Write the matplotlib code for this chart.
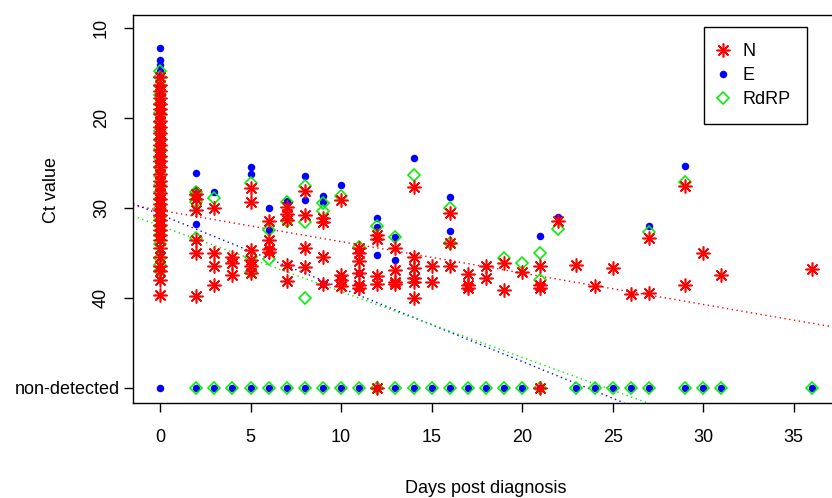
import matplotlib
matplotlib.use("Agg")
import matplotlib.pyplot as plt
from matplotlib.lines import Line2D

plt.rcParams['font.family'] = ['Liberation Sans', 'DejaVu Sans']

# ---------------- data (Ct values; non-detected listed separately) ----------------
n_days = ([0] * 35 + [2] * 6 + [3] * 4 + [4] * 3 + [5] * 6 + [6] * 4 + [7] * 5 + [8] * 4 + [9] * 4
          + [10] * 4 + [11] * 6 + [12] * 4 + [13] * 4 + [14] * 6 + [15] * 2 + [16] * 3 + [17] * 3
          + [18] * 2 + [19] * 2 + [20] + [21] * 3 + [22] + [23] + [24] + [25] + [26] + [27] * 2
          + [29] * 2 + [30] + [31] + [36])
n_ct = [15.5, 16.3, 17.0, 17.8, 18.5, 19.0, 19.6, 20.3, 21.0, 21.7, 22.3, 23.0, 23.6, 24.2, 24.8,
        25.5, 26.2, 27.0, 27.6, 28.3, 29.0, 29.6, 30.2, 30.8, 31.3, 31.9, 32.5, 33.0, 33.6, 34.4,
        35.5, 36.4, 37.0, 38.0, 39.7,
        28.4, 29.0, 30.2, 33.6, 35.0, 39.8,
        30.0, 35.0, 36.4, 38.6,
        35.5, 36.1, 37.4,
        27.8, 29.3, 34.7, 35.8, 36.5, 37.2,
        31.4, 33.6, 34.6, 34.9,
        29.9, 30.7, 31.3, 36.3, 38.1,
        28.1, 30.8, 34.4, 36.6,
        31.1, 31.6, 35.4, 38.5,
        29.1, 37.5, 38.0, 38.7,
        34.5, 35.0, 35.9, 37.2, 38.6, 38.9,
        33.0, 33.5, 37.6, 38.5,
        34.5, 36.9, 38.2, 38.4,
        27.7, 35.4, 36.7, 37.8, 38.2, 40.0,
        36.5, 38.2,
        30.6, 33.9, 36.5,
        37.3, 38.6, 38.9,
        36.5, 37.8,
        36.1, 39.1,
        37.1,
        36.4, 38.6, 38.9,
        31.4, 36.3, 38.7, 36.7, 39.6,
        33.3, 39.5,
        27.6, 38.6,
        35.0, 37.4, 36.8]
n_nd_days = [12, 21]

e_days = ([0] * 24 + [2] * 4 + [3] + [5] * 2 + [6] * 2 + [7] + [8] * 2 + [9] * 3 + [10] + [11]
          + [12] * 3 + [13] * 2 + [14] + [16] * 2 + [21] + [22] + [27] + [29])
e_ct = [12.2, 13.6, 14.1, 14.8, 15.5, 16.3, 17.2, 18.0, 19.0, 20.0, 21.0, 22.0, 23.0, 24.0, 25.0,
        26.0, 27.0, 28.0, 29.0, 30.6, 31.5, 32.5, 33.6, 34.9,
        26.1, 28.0, 29.0, 31.8,
        28.2,
        25.5, 26.2,
        30.0, 32.4,
        29.2,
        26.5, 29.1,
        28.7, 29.3, 38.4,
        27.4,
        37.2,
        31.1, 32.1, 35.2,
        33.2, 35.8,
        24.5,
        28.8, 32.6,
        33.1, 31.0, 32.0, 25.3]
e_nd_days = [0, 2, 3, 4, 5, 6, 7, 8, 9, 10, 11, 12, 13, 14, 15, 16, 17, 18, 19, 20, 21,
             23, 24, 25, 26, 27, 29, 30, 31, 36]

rdrp_days = ([0] * 24 + [2] * 4 + [3] + [5] * 3 + [6] * 2 + [7] * 2 + [8] * 3 + [9] * 2 + [10]
             + [11] + [12] + [13] + [14] + [16] * 2 + [19] + [20] + [21] * 2 + [22] + [27] + [29])
rdrp_ct = [14.8, 15.5, 16.5, 17.5, 18.5, 19.5, 20.5, 21.5, 22.5, 23.5, 24.5, 25.5, 26.5, 27.5,
           28.2, 29.0, 30.0, 31.0, 32.0, 33.0, 34.0, 35.6, 36.3, 37.0,
           28.2, 28.6, 29.3, 33.3,
           28.9,
           27.2, 35.5, 37.1,
           32.4, 35.7,
           29.3, 31.5,
           27.6, 31.6, 40.0,
           29.4, 30.3,
           28.7,
           34.3,
           32.0,
           33.2,
           26.3,
           30.0, 33.9,
           35.6,
           36.1,
           35.0, 38.0,
           32.3, 32.7, 27.1]
rdrp_nd_days = [2, 3, 4, 5, 6, 7, 8, 9, 10, 11, 12, 13, 14, 15, 16, 17, 18, 19, 20, 21,
                23, 24, 25, 26, 27, 29, 30, 31, 36]

# fitted trend lines (intercept at day 0, slope per day)
fit_n = (30.25, 0.349)
fit_e = (30.72, 0.817)
fit_rdrp = (31.98, 0.731)

x_ticks = [0, 5, 10, 15, 20, 25, 30, 35]
y_ticks = [10, 20, 30, 40]
ND_LABEL = "non-detected"
ND_VALUE = 50

# ---------------- styling ----------------
RED = '#FF0000'
BLUE = '#0000FF'
GREEN = '#00EE00'
FS = 13
STAR_MS, STAR_MEW = 10, 1.15
DOT_MS = 5.4
DIA_MS, DIA_MEW = 5.8, 1.15

fig = plt.figure(figsize=(8.32, 4.98), dpi=100)
ax = fig.add_axes([133 / 832, 1 - 403 / 498, (838 - 133) / 832, (403 - 15) / 498])

ax.set_xlim(-1.49, 37.44)
ax.set_ylim(51.67, 8.56)

star = (8, 2, 0)

# E
ax.plot(e_days, e_ct, linestyle='none', marker='o', ms=DOT_MS, mfc=BLUE, mec=BLUE, mew=0, zorder=3)
ax.plot(e_nd_days, [ND_VALUE] * len(e_nd_days), linestyle='none', marker='o', ms=DOT_MS,
        mfc=BLUE, mec=BLUE, mew=0, zorder=3)
# RdRP
ax.plot(rdrp_days, rdrp_ct, linestyle='none', marker='D', ms=DIA_MS, mfc='none', mec=GREEN,
        mew=DIA_MEW, zorder=4)
ax.plot(rdrp_nd_days, [ND_VALUE] * len(rdrp_nd_days), linestyle='none', marker='D', ms=DIA_MS,
        mfc='none', mec=GREEN, mew=DIA_MEW, zorder=4)
# N
ax.plot(n_days, n_ct, linestyle='none', marker=star, ms=STAR_MS, mec=RED, mfc=RED, mew=STAR_MEW, zorder=5)
ax.plot(n_nd_days, [ND_VALUE] * len(n_nd_days), linestyle='none', marker=star, ms=STAR_MS,
        mec=RED, mfc=RED, mew=STAR_MEW, zorder=5)

# trend lines
for (b0, b1), c in [(fit_n, RED), (fit_e, BLUE), (fit_rdrp, GREEN)]:
    ax.axline((0, b0), slope=b1, color=c, lw=1.0, linestyle=(0, (1, 2.5)), zorder=2)

# axes
for s in ax.spines.values():
    s.set_linewidth(1.0)
    s.set_color('black')

ax.set_xticks(x_ticks)
ax.set_xticklabels([str(t) for t in x_ticks], fontsize=FS)
ax.set_yticks(y_ticks + [ND_VALUE])
ax.set_yticklabels([str(t) for t in y_ticks] + [ND_LABEL], fontsize=FS)
ax.tick_params(axis='both', direction='out', length=6.5, width=1.0, colors='black')
ax.tick_params(axis='x', pad=12)
ax.tick_params(axis='y', pad=10)
ylabs = ax.get_yticklabels()
for lab in ylabs[:-1]:
    lab.set_rotation(90)
    lab.set_va('center')
ax.yaxis.get_major_ticks()[-1].set_pad(3)

ax.set_xlabel("Days post diagnosis", fontsize=FS, labelpad=25)
ax.set_ylabel("Ct value", fontsize=FS)
ax.yaxis.set_label_coords((60 - 133) / 705, 1 - (190 - 15) / 388)

handles = [
    Line2D([], [], linestyle='none', marker=star, ms=STAR_MS, mec=RED, mew=STAR_MEW),
    Line2D([], [], linestyle='none', marker='o', ms=DOT_MS, mfc=BLUE, mec=BLUE, mew=0),
    Line2D([], [], linestyle='none', marker='D', ms=DIA_MS, mfc='none', mec=GREEN, mew=DIA_MEW),
]
leg = ax.legend(handles, ['N', 'E', 'RdRP'], loc='upper right',
                bbox_to_anchor=((807 - 133) / (838 - 133), 1 - (27 - 15) / 388),
                borderaxespad=0, fancybox=False, framealpha=1, edgecolor='black',
                fontsize=FS, handlelength=0.3, handletextpad=0.92, labelspacing=0.38,
                borderpad=0.9)
leg.get_frame().set_linewidth(1.0)

fig.savefig('out.png', dpi=100)
